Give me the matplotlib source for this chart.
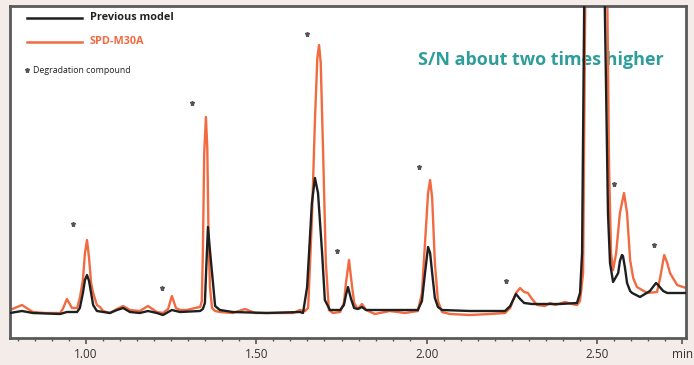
import matplotlib
matplotlib.use("Agg")
import matplotlib.pyplot as plt
from matplotlib.ticker import MultipleLocator

# ---- data (time in min, signal in arbitrary units) ----
prev_t = [0.777, 0.812, 0.844, 0.924, 0.944, 0.974, 0.982, 0.991, 0.997, 1.003, 1.009, 1.015, 1.021, 1.032,
          1.070, 1.091, 1.109, 1.129, 1.158, 1.182, 1.208, 1.226, 1.252, 1.276, 1.335, 1.343, 1.349, 1.353,
          1.358, 1.364, 1.370, 1.379, 1.393, 1.431, 1.531, 1.628, 1.637, 1.649, 1.663, 1.672, 1.681, 1.693,
          1.701, 1.716, 1.746, 1.757, 1.763, 1.769, 1.778, 1.787, 1.798, 1.810, 1.822, 1.892, 1.974, 1.986,
          1.995, 2.004, 2.010, 2.016, 2.024, 2.033, 2.045, 2.127, 2.230, 2.245, 2.262, 2.274, 2.286, 2.309,
          2.391, 2.441, 2.450, 2.456, 2.462, 2.491, 2.523, 2.532, 2.538, 2.547, 2.562, 2.567, 2.573, 2.576,
          2.582, 2.588, 2.597, 2.603, 2.626, 2.655, 2.673, 2.679, 2.694, 2.706, 2.761]
prev_v = [0, 2, 0, -1, 1, 1, 5, 20, 33, 38, 32, 20, 8, 2,
          0, 3, 5, 1, 0, 2, 0, -2, 3, 1, 2, 4, 10, 45,
          86, 62, 40, 7, 3, 1, 0, 1, 0, 26, 110, 135, 120, 60,
          13, 3, 3, 8, 18, 26, 14, 5, 4, 6, 3, 3, 3, 12,
          40, 66, 60, 40, 15, 6, 3, 2, 2, 7, 19, 14, 10, 9,
          9, 10, 20, 60, 300, 1500, 300, 100, 50, 31, 40, 52, 58, 57,
          45, 30, 22, 20, 16, 22, 30, 28, 22, 20, 20]

spd_t = [0.777, 0.812, 0.844, 0.880, 0.924, 0.932, 0.944, 0.959, 0.974, 0.982, 0.991, 0.997, 1.003, 1.009,
         1.015, 1.021, 1.032, 1.041, 1.050, 1.070, 1.091, 1.109, 1.129, 1.158, 1.182, 1.208, 1.226, 1.241,
         1.252, 1.264, 1.276, 1.296, 1.320, 1.335, 1.340, 1.343, 1.347, 1.352, 1.356, 1.360, 1.364, 1.370,
         1.379, 1.393,
         1.431, 1.467, 1.496, 1.531, 1.608, 1.628, 1.643, 1.652, 1.663, 1.672, 1.679, 1.684, 1.689, 1.696,
         1.704, 1.713,
         1.725, 1.746, 1.757, 1.763, 1.772, 1.778, 1.787, 1.798, 1.810, 1.822, 1.848, 1.892, 1.936, 1.974,
         1.986, 1.995, 2.004, 2.010, 2.016, 2.024, 2.033, 2.045, 2.068, 2.127, 2.186, 2.230, 2.245, 2.262,
         2.274, 2.286, 2.297, 2.309, 2.324, 2.347, 2.362, 2.377, 2.406, 2.426, 2.441, 2.450, 2.459, 2.465,
         2.500, 2.529, 2.535, 2.541, 2.547, 2.556, 2.567, 2.579, 2.588, 2.597, 2.606, 2.617, 2.647, 2.676,
         2.685, 2.697, 2.706, 2.714, 2.735, 2.761]
spd_v = [3, 8, 1, 0, 0, 4, 14, 5, 5, 15, 33, 60, 73, 55,
         30, 20, 8, 6, 2, 0, 4, 7, 3, 2, 7, 1, 0, 4,
         17, 5, 3, 3, 5, 6, 12, 60, 160, 196, 165, 70, 25, 5,
         2, 1,
         0, 4, 0, 0, 0, 3, 2, 5, 93, 193, 255, 268, 250, 160,
         50, 3,
         0, 1, 10, 30, 53, 35, 10, 4, 9, 3, -1, 2, 0, 2,
         20, 70, 120, 133, 115, 50, 12, 1, -1, -2, -1, 0, 5, 20,
         25, 21, 20, 14, 8, 7, 10, 8, 11, 9, 8, 12, 40, 300,
         1500, 350, 150, 60, 43, 60, 100, 120, 100, 53, 35, 26, 20, 21,
         35, 58, 50, 40, 28, 25]

# degradation compound markers
deg_t = [0.962, 1.223, 1.311, 1.649, 1.737, 1.977, 2.233, 2.550, 2.667]
deg_v = [89, 25, 210, 279, 62, 146, 32, 129, 68]

tick_pos = [1.0, 1.5, 2.0, 2.5, 2.75]
tick_lab = ["1.00", "1.50", "2.00", "2.50", "min"]

series_names = ["Previous model", "SPD-M30A"]
note_text = "S/N about two times higher"
marker_text = "Degradation compound"

# ---- figure ----
plt.rcParams['font.family'] = ['Open Sans', 'DejaVu Sans']
fig = plt.figure(figsize=(6.94, 3.65), dpi=100, facecolor="#f3ece9")
ax = fig.add_axes([10/694, (365-338)/365, 676/694, 332/365])
ax.set_facecolor("white")

c_black = "#1f1f1f"
c_orange = "#f26a40"

ax.plot(prev_t, prev_v, color=c_black, lw=1.7, solid_joinstyle="round", zorder=3)
ax.plot(spd_t, spd_v, color=c_orange, lw=1.7, solid_joinstyle="round", zorder=2)
ax.plot(deg_t, deg_v, ls="none", marker="*", ms=3.6, color="#555555", zorder=4)

ax.set_xlim(0.777, 2.761)
ax.set_ylim(-25, 307)

for s in ["left", "right", "top", "bottom"]:
    ax.spines[s].set_color("#5a5a5a")
    ax.spines[s].set_linewidth(2.0)

ax.set_yticks([])
ax.set_xticks(tick_pos)
ax.set_xticklabels(tick_lab)
ax.xaxis.set_minor_locator(MultipleLocator(0.05))
ax.tick_params(axis="x", which="major", direction="out", length=4, width=1.2, color="#555555",
               labelsize=8.5, labelcolor="#333333", pad=3)
ax.tick_params(axis="x", which="minor", direction="out", length=2.5, width=1.0, color="#555555")

# legend drawn manually
ax.plot([0.025, 0.107], [0.964, 0.964], transform=ax.transAxes, color=c_black, lw=1.8, clip_on=False)
ax.text(0.1183, 0.964, series_names[0], transform=ax.transAxes, va="center", ha="left",
        fontsize=7.8, fontweight="bold", color="#222222")
ax.plot([0.025, 0.107], [0.892, 0.892], transform=ax.transAxes, color=c_orange, lw=1.8, clip_on=False)
ax.text(0.1183, 0.892, series_names[1], transform=ax.transAxes, va="center", ha="left",
        fontsize=7.8, fontweight="bold", color=c_orange)
ax.plot([0.025], [0.807], transform=ax.transAxes, ls="none", marker="*", ms=3.6, color="#555555")
ax.text(0.034, 0.807, marker_text, transform=ax.transAxes, va="center", ha="left",
        fontsize=6.3, color="#222222")

ax.text(0.604, 0.837, note_text, transform=ax.transAxes, va="center", ha="left",
        fontsize=13.0, fontweight="bold", color="#2f9e9b", zorder=1)

fig.savefig("out.png", dpi=100, facecolor=fig.get_facecolor())
